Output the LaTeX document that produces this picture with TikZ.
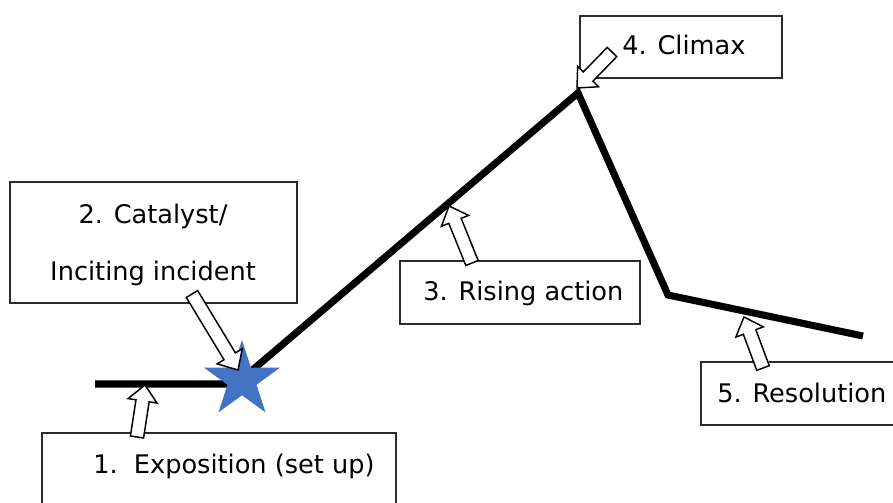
\documentclass[tikz,border=0pt]{standalone}
\usepackage{fontspec}
\setmainfont{DejaVu Sans}
\usetikzlibrary{calc,shapes.geometric}
\definecolor{starblue}{HTML}{4472C4}
\definecolor{boxline}{HTML}{2B2B2B}
\tikzset{
  box/.style={draw=boxline, line width=1.1pt, fill=white, rectangle, inner sep=0pt},
  lbl/.style={font=\fontsize{19.2}{23}\selectfont, text=black, inner sep=0pt},
  plotline/.style={line width=5.3pt, black, line join=miter},
  barrow/.style={draw=black, fill=white, line width=1.1pt, line join=miter},
}
\newcommand\blockarrow[2]{%
  \path ($(#2)!12pt!(#1)$) coordinate (#2h);
  \draw[barrow] ($(#1)!5pt!90:(#2)$) -- ($(#2h)!5pt!90:(#2)$) -- ($(#2h)!11pt!90:(#2)$) -- (#2) -- ($(#2h)!11pt!-90:(#2)$) -- ($(#2h)!5pt!-90:(#2)$) -- ($(#1)!5pt!-90:(#2)$) -- cycle;
}
\begin{document}
\begin{tikzpicture}[x=0.75pt,y=-0.75pt]
\useasboundingbox (0,0) rectangle (893,503);
% plot line
\coordinate (e0) at (95,384);
\coordinate (cat) at (236,384);
\coordinate (peak) at (578,93);
\coordinate (fall) at (668,295);
\coordinate (e1) at (863,336);
\draw[plotline] (e0) -- (cat) -- (peak) -- (fall) -- (e1);
\node[star, star points=5, star point ratio=2.618, fill=starblue, minimum size=60pt, inner sep=0pt] (star) at (242,380) {};
% boxes
\node[box, minimum width=265.5pt, minimum height=80.25pt] (b1) at (219,486.5) {};
\node[box, minimum width=215.25pt, minimum height=90.75pt] (b2) at (153.5,242.5) {};
\node[box, minimum width=180pt, minimum height=47.25pt] (b3) at (520,292.5) {};
\node[box, minimum width=151.5pt, minimum height=46.5pt] (b4) at (681,47) {};
\node[box, minimum width=164.25pt, minimum height=47.25pt] (b5) at (810.5,393.5) {};
% texts
\node[lbl, anchor=base west] (t1) at (93,473) {1.\ \ Exposition (set up)};
\node[lbl, anchor=base] (t2a) at (153,223) {2. Catalyst/};
\node[lbl, anchor=base] (t2b) at (153,280) {Inciting incident};
\node[lbl, anchor=base west] (t3) at (423,300) {3. Rising action};
\node[lbl, anchor=base west] (t4) at (622,55) {4. Climax};
\node[lbl, anchor=base west] (t5) at (717,402) {5. Resolution};
% arrows
\coordinate (a1s) at (137,437); \coordinate (a1t) at (145,385);
\coordinate (a2s) at (192,294); \coordinate (a2t) at (238,370);
\coordinate (a3s) at (472,263); \coordinate (a3t) at (449,206);
\coordinate (a4s) at (612,52);  \coordinate (a4t) at (577,88);
\coordinate (a5s) at (763,368); \coordinate (a5t) at (744,317);
\blockarrow{a1s}{a1t}
\blockarrow{a2s}{a2t}
\blockarrow{a3s}{a3t}
\blockarrow{a4s}{a4t}
\blockarrow{a5s}{a5t}
\end{tikzpicture}
\end{document}
